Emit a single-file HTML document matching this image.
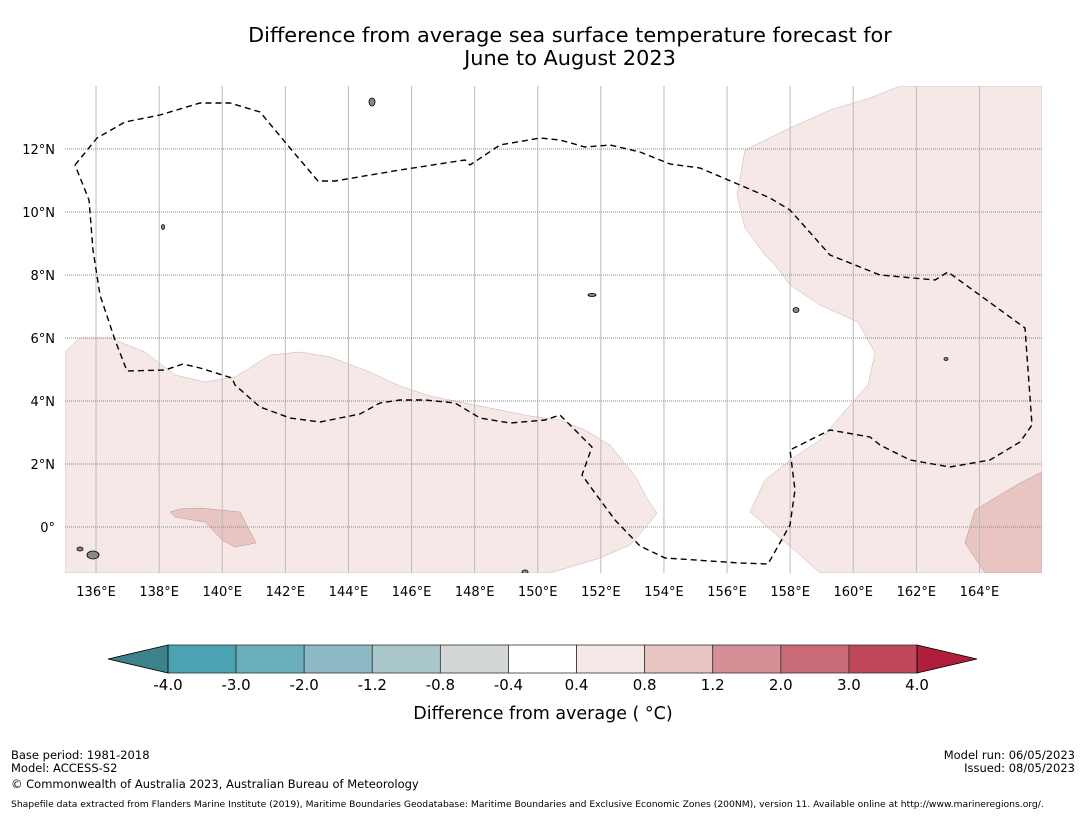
<!DOCTYPE html>
<html><head><meta charset="utf-8">
<style>
body{margin:0;background:#fff;font-family:"DejaVu Sans","Liberation Sans",sans-serif;}
#wrap{position:relative;width:1085px;height:816px;overflow:hidden;}
.t{position:absolute;font-size:11.5px;color:#000;white-space:nowrap;}
</style></head>
<body>
<div id="wrap">
<svg id="svg" width="1085" height="816" style="position:absolute;left:0;top:0"></svg>
<div class="t" style="left:11px;top:748px">Base period: 1981-2018</div>
<div class="t" style="left:11px;top:761px">Model: ACCESS-S2</div>
<div class="t" style="left:11px;top:777px">© Commonwealth of Australia 2023, Australian Bureau of Meteorology</div>
<div class="t" style="right:10px;top:748px">Model run: 06/05/2023</div>
<div class="t" style="right:10px;top:761px">Issued: 08/05/2023</div>
<div class="t" style="left:11px;top:799px;font-size:9.2px">Shapefile data extracted from Flanders Marine Institute (2019), Maritime Boundaries Geodatabase: Maritime Boundaries and Exclusive Economic Zones (200NM), version 11. Available online at http://www.marineregions.org/.</div>
</div>
<script>
const lonTicks=[136,138,140,142,144,146,148,150,152,154,156,158,160,162,164];
const latTicks=[0,2,4,6,8,10,12];
const levels=[-4.0,-3.0,-2.0,-1.2,-0.8,-0.4,0.4,0.8,1.2,2.0,3.0,4.0];
const levelColors=["#4aa2b2","#6aadbb","#8cb9c4","#a9c7cb","#d3d7d8","#ffffff","#f5e8e6","#e8c5c2","#d59097","#c86b76","#bf4759"];
const underColor="#3c818b", overColor="#b01e3c";
const eezPx=[[75,165],[97,138],[125,122],[160,115],[200,103],[230,103],[260,112],[290,148],[318,181],[335,181],[400,170],[465,160],[470,165],[500,145],[540,138],[560,140],[585,147],[610,145],[640,152],[670,164],[700,168],[740,185],[770,198],[790,210],[830,255],[880,275],[935,280],[948,272],[1025,328],[1032,425],[1020,442],[990,460],[950,467],[910,460],[880,445],[870,437],[830,430],[810,440],[790,450],[795,490],[790,525],[768,564],[740,563],[665,558],[640,546],[615,520],[595,493],[582,475],[592,447],[560,415],[545,420],[510,423],[480,418],[455,403],[425,400],[400,400],[380,403],[360,414],[320,422],[290,418],[260,407],[235,385],[232,378],[200,368],[183,364],[165,370],[127,371],[115,340],[100,295],[93,250],[89,200],[75,165]];
const leftPinkPx=[[65,352],[80,338],[110,338],[145,352],[175,375],[205,382],[235,377],[270,355],[300,352],[330,357],[370,372],[400,386],[430,396],[480,406],[530,416],[560,420],[585,430],[610,445],[635,476],[648,500],[657,513],[650,522],[630,545],[600,558],[550,573],[65,573]];
const leftDarkPx=[[170,512],[180,509],[200,508],[240,512],[256,543],[235,547],[222,540],[205,522],[175,517]];
const rightPinkPx=[[745,150],[790,128],[830,110],[870,98],[900,86],[1042,86],[1042,573],[820,573],[800,555],[750,512],[765,480],[790,460],[820,440],[850,405],[868,385],[875,353],[858,322],[820,305],[790,285],[775,265],[765,255],[745,228],[737,195]];
const rightDarkPx=[[1042,472],[1020,483],[975,510],[965,543],[985,573],[1042,573]];
const X0=64.5,DX=31.55,Y0=527,DY=31.5;
const xs=lon=>X0+(lon-135)*DX, ys=lat=>Y0-lat*DY;
const toLL=p=>[135+(p[0]-X0)/DX,(Y0-p[1])/DY];
const NS="http://www.w3.org/2000/svg",svg=document.getElementById('svg');
function mk(tag,at,parent){const e=document.createElementNS(NS,tag);for(const k in at)e.setAttribute(k,at[k]);(parent||svg).appendChild(e);return e;}
const L=65,R=1042,T=86,B=573;
mk('defs',{}).innerHTML='<clipPath id="cp"><rect x="65" y="86" width="977" height="487"/></clipPath>';
const g=mk('g',{'clip-path':'url(#cp)'});
function poly(px,fill,stroke,name){const pts=px.map(toLL).map(q=>xs(q[0])+','+ys(q[1])).join(' ');
const e=mk('polygon',{points:pts,fill:fill,stroke:stroke,'stroke-width':0.5},g);

}
poly(leftPinkPx,levelColors[6],"#c8b0ad","anomaly-region-west");
poly(leftDarkPx,levelColors[7],"#b89390","anomaly-patch-west");
poly(rightPinkPx,levelColors[6],"#c8b0ad","anomaly-region-east");
poly(rightDarkPx,levelColors[7],"#b89390","anomaly-patch-east");
lonTicks.forEach(lon=>{const x=xs(lon);
const l=mk('line',{x1:x,x2:x,y1:T,y2:B,stroke:'#bbb','stroke-width':1},g);


const t=mk('text',{x:x,y:596,'font-size':13,'text-anchor':'middle','font-family':'DejaVu Sans, sans-serif'});
t.textContent=lon+'°E';

});
latTicks.forEach(lat=>{const y=ys(lat);
const l=mk('line',{x1:L,x2:R,y1:y,y2:y,stroke:'#888','stroke-width':1,'stroke-dasharray':'1,1'},g);


const t=mk('text',{x:55,y:y+5,'font-size':13,'text-anchor':'end','font-family':'DejaVu Sans, sans-serif'});
t.textContent=lat===0?'0°':lat+'°N';

});
const eez=mk('polyline',{points:eezPx.map(toLL).map(q=>xs(q[0])+','+ys(q[1])).join(' '),fill:'none',stroke:'#000','stroke-width':1.4,'stroke-dasharray':'6,4'},g);


[[372,102,3,4],[796,310,3,2.5],[93,555,6,4],[163,227,1.5,2.5],[592,295,4,1.5],[946,359,2,1.5],[525,572,3,2],[80,549,3,2]].forEach(p=>{
const e=mk('ellipse',{cx:p[0],cy:p[1],rx:p[2],ry:p[3],fill:'#888',stroke:'#000','stroke-width':0.8},g);

});
[['Difference from average sea surface temperature forecast for',42],['June to August 2023',65]].forEach(a=>{
const t=mk('text',{x:570,y:a[1],'font-size':20.8,'text-anchor':'middle','font-family':'DejaVu Sans, sans-serif'});t.textContent=a[0];

});
const cbL=168,cbR=917,cbT=645,cbB=673,n=levels.length-1,w=(cbR-cbL)/n;
const cb=i=>cbL+i*w;
levelColors.forEach((c,i)=>{const r=mk('rect',{x:cb(i),y:cbT,width:w,height:cbB-cbT,fill:c,stroke:'#333','stroke-width':0.8});

});
levels.forEach((v,i)=>{const t=mk('text',{x:cb(i),y:690,'font-size':15,'text-anchor':'middle','font-family':'DejaVu Sans, sans-serif'});t.textContent=v.toFixed(1);

});
const tu=mk('polygon',{points:`${cbL},${cbT} ${cbL-60},${(cbT+cbB)/2} ${cbL},${cbB}`,fill:underColor,stroke:'#000','stroke-width':0.8});


const to=mk('polygon',{points:`${cbR},${cbT} ${cbR+60},${(cbT+cbB)/2} ${cbR},${cbB}`,fill:overColor,stroke:'#000','stroke-width':0.8});


const ct=mk('text',{x:543,y:719,'font-size':17.5,'text-anchor':'middle','font-family':'DejaVu Sans, sans-serif'});
ct.textContent='Difference from average ( °C)';


</script>
</body></html>
